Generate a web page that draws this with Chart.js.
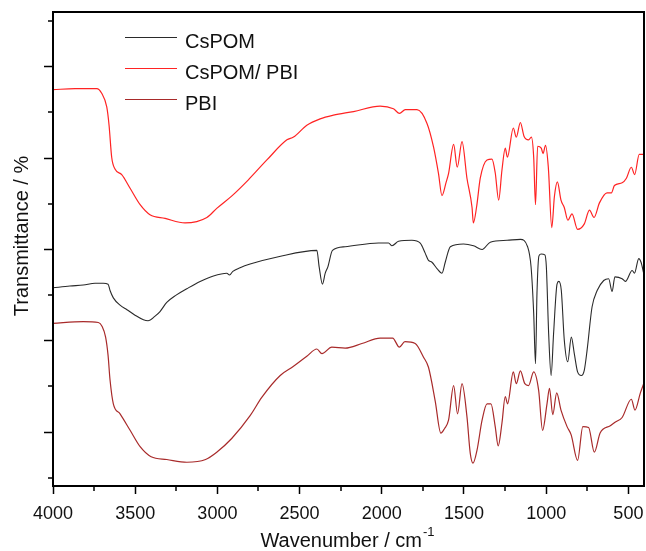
<!DOCTYPE html>
<html>
<head>
<meta charset="utf-8">
<script src="https://cdn.jsdelivr.net/npm/chart.js@4.4.0/dist/chart.umd.min.js"></script>
<style>
  html, body { margin: 0; padding: 0; background: #fff; }
</style>
</head>
<body>
<canvas id="ir" width="646" height="551"></canvas>
<script>
// FTIR spectra, offset vertically (arbitrary transmittance units)
const wnCsPOM = [4000,3897,3816,3744,3694,3665,3653,3633,3592,3550,3501,3450,3422,3379,3349,3308,3251,3186,3105,3024,2943,2926,2906,2862,2801,2629,2395,2381,2361,2344,2328,2300,2223,2020,1959,1938,1898,1817,1766,1736,1716,1695,1664,1634,1614,1583,1503,1442,1390,1340,1238,1157,1113,1092,1076,1065,1056,1044,1030,1008,999,985,970,955,934,923,908,890,869,847,829,809,786,768,751,721,690,650,620,599,582,538,518,477,463,437,423,407];
const tCsPOM = [2.58,2.60,2.61,2.63,2.63,2.62,2.55,2.47,2.39,2.34,2.28,2.23,2.22,2.27,2.32,2.42,2.50,2.57,2.65,2.71,2.74,2.72,2.76,2.80,2.84,2.92,2.99,2.81,2.62,2.74,2.81,2.99,3.03,3.07,3.07,3.04,3.09,3.10,3.07,2.96,2.88,2.86,2.79,2.74,2.86,3.03,3.06,3.04,3.00,3.08,3.10,3.11,3.03,2.81,2.30,1.75,2.52,2.93,2.95,2.94,2.81,2.08,1.62,2.08,2.62,2.65,2.55,2.01,1.77,2.04,1.86,1.66,1.62,1.68,1.90,2.37,2.55,2.66,2.68,2.54,2.70,2.68,2.65,2.77,2.74,2.90,2.86,2.74];

const wnComposite = [4000,3866,3734,3704,3673,3659,3643,3623,3582,3531,3470,3410,3318,3197,3064,3004,2910,2813,2699,2577,2537,2456,2375,2294,2172,2010,1929,1892,1857,1786,1725,1685,1655,1634,1608,1594,1563,1541,1512,1482,1451,1443,1423,1401,1360,1330,1310,1289,1269,1249,1236,1200,1182,1157,1135,1107,1090,1076,1065,1052,1030,1019,1004,987,966,950,932,910,890,868,843,809,768,737,709,676,630,603,585,538,512,482,462,434,407];
const tComposite = [4.75,4.76,4.76,4.71,4.56,4.36,4.01,3.88,3.82,3.67,3.49,3.38,3.34,3.29,3.35,3.45,3.59,3.76,3.98,4.20,4.23,4.36,4.43,4.47,4.51,4.57,4.54,4.49,4.53,4.53,4.38,4.12,3.83,3.59,3.74,3.83,4.15,3.90,4.18,3.78,3.46,3.29,3.47,3.78,3.98,3.99,3.84,3.54,3.87,4.11,4.01,4.33,4.23,4.39,4.24,4.20,4.23,4.01,3.49,4.13,4.11,4.05,4.14,3.90,3.24,3.58,3.74,3.54,3.46,3.32,3.39,3.22,3.28,3.43,3.35,3.51,3.62,3.62,3.70,3.73,3.78,3.90,3.82,4.04,4.04];

const wnPBI = [4000,3816,3724,3702,3680,3665,3653,3633,3592,3531,3470,3403,3308,3186,3072,3004,2913,2801,2730,2618,2537,2456,2395,2364,2304,2223,2121,2010,1934,1893,1859,1797,1746,1716,1675,1641,1618,1594,1563,1539,1512,1482,1462,1445,1421,1390,1360,1336,1310,1292,1269,1249,1235,1200,1182,1157,1130,1107,1076,1046,1022,995,980,960,936,910,873,848,809,777,742,707,672,610,579,538,482,460,427,407];
const tPBI = [2.19,2.21,2.20,2.16,2.04,1.84,1.57,1.31,1.20,1.02,0.84,0.73,0.70,0.67,0.70,0.78,0.93,1.18,1.38,1.62,1.72,1.83,1.91,1.86,1.93,1.92,1.97,2.03,2.03,1.93,1.99,1.97,1.82,1.71,1.34,0.99,1.04,1.13,1.51,1.20,1.53,1.17,0.77,0.66,0.80,1.13,1.31,1.31,1.06,0.85,1.10,1.39,1.31,1.66,1.53,1.67,1.53,1.51,1.66,1.46,1.02,1.31,1.48,1.19,1.43,1.24,1.06,0.97,0.69,1.06,1.05,0.78,0.99,1.07,1.11,1.16,1.36,1.24,1.43,1.53];

const seriesNames = ['CsPOM', 'CsPOM/ PBI', 'PBI'];
const xMajorTicks = [4000, 3500, 3000, 2500, 2000, 1500, 1000, 500];
const xMinorTicks = [3750, 3250, 2750, 2250, 1750, 1250, 750];
const yMajorTicks = [1, 2, 3, 4, 5];
const yMinorTicks = [0.5, 1.5, 2.5, 3.5, 4.5, 5.5];

const FONT = '"Liberation Sans", Arial, Helvetica, sans-serif';
Chart.defaults.font.family = FONT;
Chart.defaults.color = '#111';

function pts(xs, ys) {
  return xs.map((v, i) => ({x: v, y: ys[i]}));
}

const decorations = {
  id: 'decorations',
  afterDraw(chart) {
    const {ctx, chartArea: a, scales: {x, y}} = chart;
    ctx.save();
    // frame
    ctx.strokeStyle = '#000';
    ctx.lineWidth = 2;
    ctx.strokeRect(a.left, a.top, a.right - a.left, a.bottom - a.top);
    // minor ticks
    ctx.lineWidth = 1.5;
    ctx.beginPath();
    xMinorTicks.forEach(v => {
      const px = Math.round(x.getPixelForValue(v));
      ctx.moveTo(px, a.bottom);
      ctx.lineTo(px, a.bottom + 5);
    });
    yMinorTicks.forEach(v => {
      const py = Math.round(y.getPixelForValue(v));
      ctx.moveTo(a.left, py);
      ctx.lineTo(a.left - 5, py);
    });
    ctx.stroke();

    // legend
    ctx.font = '20px ' + FONT;
    ctx.textBaseline = 'alphabetic';
    ctx.textAlign = 'left';
    chart.data.datasets.forEach((ds, i) => {
      const ly = 37.5 + 31 * i;
      ctx.strokeStyle = ds.borderColor;
      ctx.lineWidth = ds.borderWidth;
      ctx.beginPath();
      ctx.moveTo(125, ly);
      ctx.lineTo(177, ly);
      ctx.stroke();
      ctx.fillStyle = '#111';
      ctx.fillText(ds.label, 185, 47.5 + 31 * i);
    });

    // x axis title with superscript
    const main = 'Wavenumber / cm';
    const sup = '-1';
    ctx.font = '20px ' + FONT;
    const wMain = ctx.measureText(main).width;
    ctx.font = '13px ' + FONT;
    const wSup = ctx.measureText(sup).width;
    const x0 = 347 - (wMain + wSup) / 2;
    ctx.font = '20px ' + FONT;
    ctx.fillText(main, x0, 547);
    ctx.font = '13px ' + FONT;
    ctx.fillText(sup, x0 + wMain + 1, 536);

    // y axis title
    ctx.font = '20px ' + FONT;
    ctx.translate(27.5, 236);
    ctx.rotate(-Math.PI / 2);
    ctx.textAlign = 'center';
    ctx.fillText('Transmittance / %', 0, 0);
    ctx.restore();
  }
};

new Chart(document.getElementById('ir'), {
  type: 'line',
  data: {
    datasets: [
      {label: seriesNames[0], data: pts(wnCsPOM, tCsPOM), borderColor: '#2a2a2a', borderWidth: 1.1},
      {label: seriesNames[1], data: pts(wnComposite, tComposite), borderColor: '#ff2323', borderWidth: 1.2},
      {label: seriesNames[2], data: pts(wnPBI, tPBI), borderColor: '#a82a2a', borderWidth: 1.2}
    ]
  },
  options: {
    responsive: false,
    animation: false,
    devicePixelRatio: 1,
    parsing: false,
    elements: {point: {radius: 0}, line: {cubicInterpolationMode: 'monotone'}},
    layout: {padding: {top: 12, right: 2, left: 0, bottom: 0}},
    plugins: {legend: {display: false}, tooltip: {enabled: false}},
    scales: {
      x: {
        type: 'linear',
        reverse: true,
        min: 405,
        max: 4000,
        afterFit: s => { s.height = 65; s.paddingLeft = 0; s.paddingRight = 0; },
        afterBuildTicks: s => { s.ticks = xMajorTicks.map(v => ({value: v})); },
        ticks: {autoSkip: false, maxRotation: 0,
                padding: 9, color: '#111', font: {size: 18},
                callback: v => String(v)},
        grid: {drawOnChartArea: false, drawTicks: true, tickLength: 8, tickWidth: 1.5, tickColor: '#000'},
        border: {display: true, color: '#000', width: 2}
      },
      y: {
        type: 'linear',
        min: 0.41,
        max: 5.6,
        afterFit: s => { s.width = 53; },
        afterBuildTicks: s => { s.ticks = yMajorTicks.map(v => ({value: v})); },
        ticks: {display: false},
        grid: {drawOnChartArea: false, drawTicks: true, tickLength: 9, tickWidth: 1.5, tickColor: '#000'},
        border: {display: true, color: '#000', width: 2}
      }
    }
  },
  plugins: [decorations]
});
</script>
</body>
</html>
